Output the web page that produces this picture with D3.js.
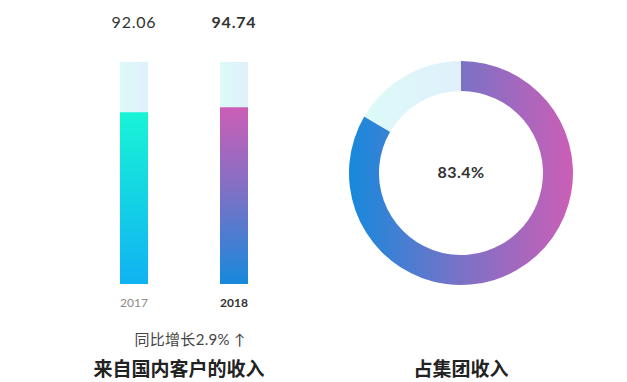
<!DOCTYPE html>
<html><head><meta charset="utf-8">
<script src="https://cdn.jsdelivr.net/npm/d3@7"></script>
<style>
html,body{margin:0;padding:0;background:#fff;}
svg{display:block;}
text{font-family:"Lato","Open Sans","Noto Sans CJK SC",sans-serif;}
</style></head><body>
<script>
const years = ["2017", "2018"];
const values = [92.06, 94.74];
const growthLabel = "同比增长2.9% ↑";
const barTitle = "来自国内客户的收入";
const shareValue = 83.4;
const shareTitle = "占集团收入";

const W = 627, H = 382;
const svg = d3.select("body").append("svg").attr("width", W).attr("height", H);
const defs = svg.append("defs");

function lin(id, x1, y1, x2, y2, stops) {
  const g = defs.append("linearGradient").attr("id", id)
    .attr("x1", x1).attr("y1", y1).attr("x2", x2).attr("y2", y2);
  stops.forEach(s => g.append("stop").attr("offset", s[0]).attr("stop-color", s[1]));
}
lin("bgGrad", "0", "0", "1", "0", [[0, "#ddfaf8"], [1, "#dff0fb"]]);
lin("bar0", "0", "0", "0", "1", [[0, "#18f4d6"], [1, "#10b2f2"]]);
lin("bar1", "0", "0", "0", "1", [[0, "#cc5eb6"], [0.5, "#7a72c6"], [1, "#1689dc"]]);
lin("donutGrad", "0", "0", "1", "0", [[0, "#1689dc"], [0.5, "#7a72c6"], [1, "#cc5eb6"]]);

// Bars
const x = d3.scaleBand().domain(years).range([84, 284]).paddingInner(0.72).paddingOuter(0.36);
const y = d3.scaleLinear().domain([0, 119]).range([284, 62]);
const bw = 28;
const bg = svg.append("g");
years.forEach((yr, i) => {
  const cx = x(yr) + x.bandwidth() / 2;
  bg.append("rect").attr("x", cx - bw / 2).attr("y", y(119)).attr("width", bw)
    .attr("height", y(0) - y(119)).attr("fill", "url(#bgGrad)");
  bg.append("rect").attr("x", cx - bw / 2).attr("y", y(values[i])).attr("width", bw)
    .attr("height", y(0) - y(values[i])).attr("fill", `url(#bar${i})`);
  bg.append("text").attr("x", cx).attr("y", 28).attr("text-anchor", "middle")
    .attr("font-size", 16).attr("font-weight", i === 1 ? 700 : 400)
    .attr("fill", "#333").attr("letter-spacing", 0.8).text(values[i].toFixed(2));
  bg.append("text").attr("x", cx).attr("y", 307).attr("text-anchor", "middle")
    .attr("font-size", 12).attr("font-weight", i === 1 ? 700 : 400)
    .attr("fill", i === 1 ? "#333" : "#8a8a8a").text(yr);
});
svg.append("text").attr("x", 190).attr("y", 345).attr("text-anchor", "middle")
  .attr("font-size", 15).attr("fill", "#444").attr("letter-spacing", 0.3).text(growthLabel);
svg.append("text").attr("x", 179).attr("y", 376).attr("text-anchor", "middle")
  .attr("font-size", 19).attr("font-weight", 700).attr("fill", "#222").text(barTitle);

// Donut
const cx = 461, cy = 173, R = 112, r = 82;
const pie = d3.pie().sort(null).value(d => d);
const arcs = pie([shareValue, 100 - shareValue]);
const arc = d3.arc().innerRadius(r).outerRadius(R);
const dg = svg.append("g").attr("transform", `translate(${cx},${cy})`);
dg.selectAll("path").data(arcs).join("path")
  .attr("d", arc)
  .attr("fill", (d, i) => i === 0 ? "url(#donutGrad)" : "url(#bgGrad)");
dg.append("text").attr("x", 0).attr("y", 5).attr("text-anchor", "middle")
  .attr("font-size", 16).attr("font-weight", 700).attr("fill", "#333").attr("letter-spacing", 0.5)
  .text(shareValue + "%");
svg.append("text").attr("x", cx).attr("y", 376).attr("text-anchor", "middle")
  .attr("font-size", 19).attr("font-weight", 700).attr("fill", "#222").text(shareTitle);
</script>
</body></html>
